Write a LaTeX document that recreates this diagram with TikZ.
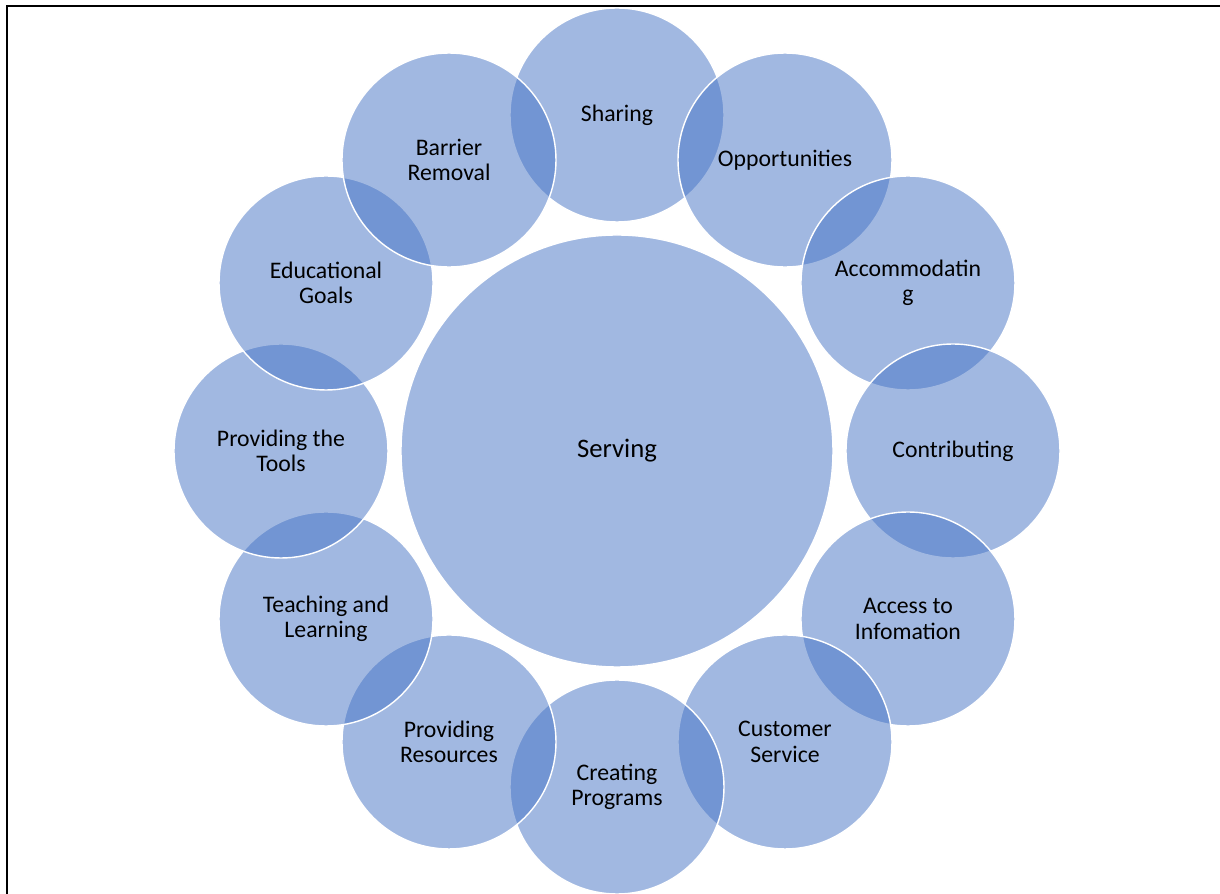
\documentclass[tikz,border=0pt]{standalone}
\usepackage{fontspec}
\setmainfont{Carlito}
\usepackage{tikz}
\definecolor{accentblue}{HTML}{4472C4}

\begin{document}
\begin{tikzpicture}[
			hubnode/.style={circle, draw=white, line width=1pt, fill=accentblue, fill opacity=0.5, text opacity=1, minimum size=10.8cm, inner sep=0pt, font=\fontsize{19}{22}\selectfont},
			roundnode/.style={circle, draw=white, line width=1pt, fill=accentblue, fill opacity=0.5, text opacity=1, minimum size=5.35cm, inner sep=0pt, align=center, font=\fontsize{16.9}{18}\selectfont},
		]

			\useasboundingbox (-15.425,-11.075) rectangle (15.075,11.275);

			%Frame
			\draw[line width=1.6pt]	(-15.25,-11.075) -- (-15.25,11.125) -- (15.075,11.125);

			%Nodes
			\node[hubnode]		(serving)	at (0,0)		{Serving};
			\node[roundnode]	(sharing)	at (90:8.4)		{Sharing};
			\node[roundnode]	(opport)	at (60:8.4)		{Opportunities};
			\node[roundnode]	(accom)		at (30:8.4)		{Accommodatin\\g};
			\node[roundnode]	(contrib)	at (0:8.4)		{Contributing};
			\node[roundnode]	(access)	at (-30:8.4)	{Access to\\Infomation};
			\node[roundnode]	(customer)	at (-60:8.4)	{Customer\\Service};
			\node[roundnode]	(creating)	at (-90:8.4)	{Creating\\Programs};
			\node[roundnode]	(resources)	at (-120:8.4)	{Providing\\Resources};
			\node[roundnode]	(teaching)	at (-150:8.4)	{Teaching and\\Learning};
			\node[roundnode]	(tools)		at (180:8.4)	{Providing the\\Tools};
			\node[roundnode]	(goals)		at (150:8.4)	{Educational\\Goals};
			\node[roundnode]	(barrier)	at (120:8.4)	{Barrier\\Removal};

		\end{tikzpicture}
\end{document}
